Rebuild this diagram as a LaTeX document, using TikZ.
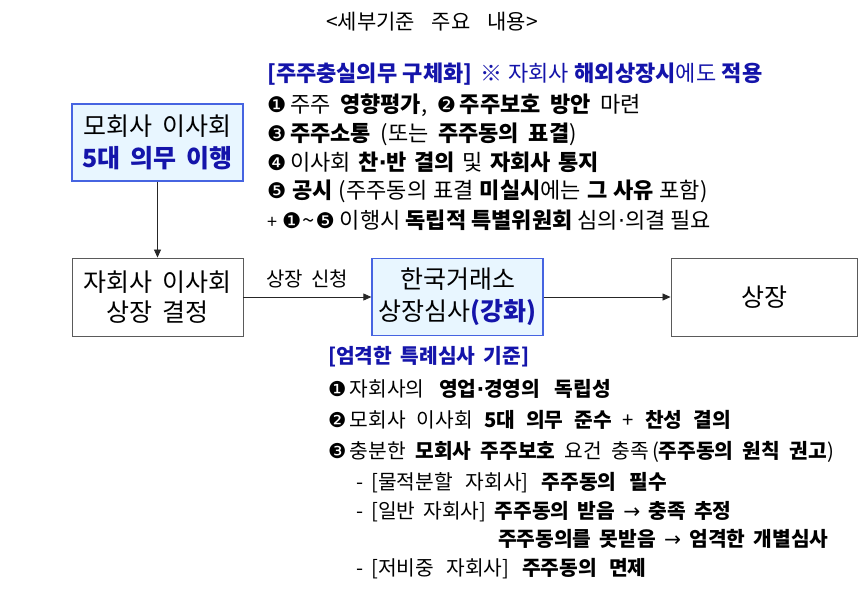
\documentclass[tikz,border=0pt]{standalone}
\usepackage{fontspec}
\setmainfont[WordSpace=1.8]{Noto Sans CJK KR}
\newfontfamily\dv{DejaVu Sans}
\usetikzlibrary{arrows.meta}
\definecolor{tblue}{RGB}{20,20,170}
\definecolor{bfill}{RGB}{232,246,255}
\definecolor{bline}{RGB}{70,100,225}
\definecolor{gline}{RGB}{90,90,90}
\newcommand{\cn}[1]{{\dv\fontsize{21.5}{22}\selectfont\char"#1}}
\newcommand{\cm}[1]{{\dv\fontsize{20.5}{21}\selectfont\char"#1}}
\newcommand{\md}{{\dv\char"B7}}
\newcommand{\ar}{{\dv\char"2192}}
\newcommand{\kb}[1]{{\bfseries #1}}
\tikzset{
  bluebox/.style={draw=bline, fill=bfill, line width=1.3pt, minimum width=171pt, minimum height=77pt, align=center, font=\fontsize{25}{32}\selectfont, inner sep=0pt},
  greybox/.style={draw=gline, fill=white, line width=0.9pt, minimum width=171pt, minimum height=78pt, align=center, font=\fontsize{25}{30}\selectfont, inner sep=0pt},
  topline/.style={anchor=west, inner sep=0pt, font=\fontsize{22}{24}\selectfont},
  botline/.style={anchor=west, inner sep=0pt, font=\fontsize{20.3}{22}\selectfont},
  ws/.style={execute at begin node={\spaceskip=#1\relax}},
  conn/.style={draw=black!85, line width=0.8pt, -{Triangle[length=8pt,width=7pt]}}
}
\begin{document}
\begin{tikzpicture}[x=1pt,y=-1pt]
\useasboundingbox[fill=white] (0,0) rectangle (860,595);
\node[inner sep=0pt, font=\fontsize{21}{24}\selectfont] (title) at (432,22) {<세부기준\ \ 주요\ \ 내용>};

\node[bluebox] (b1) at (157.5,142.5) {모회사 이사회\\{\bfseries\color{tblue}5대 의무 이행}};
\node[greybox] (b2) at (157.5,297) {자회사 이사회\\상장 결정};
\node[bluebox] (b3) at (457.5,297) {한국거래소\\상장심사{\bfseries\color{tblue}(강화)}};
\node[greybox, minimum width=186pt] (b4) at (764,297) {상장};

\draw[conn] (b1) -- (b2);
\draw[conn] (b2) -- node[above=9pt, font=\fontsize{20}{22}\selectfont, inner sep=0pt] (lbl) {상장 신청} (b3);
\draw[conn] (b3) -- (b4);

\node[topline, ws=5.5pt, text=tblue] (t1) at (267,74) {\kb{[주주충실의무 구체화]}\hspace{3pt} ※ 자회사 \kb{해외상장시}에도 \kb{적용}};
\node[topline, ws=9.6pt] (t2) at (267,105) {\cn{2776}\,주주 \kb{영향평가}, \cn{2777}\,\kb{주주보호 방안} 마련};
\node[topline, ws=9.6pt] (t3) at (267,134) {\cn{2778}\,\kb{주주소통} (또는 \kb{주주동의 표결})};
\node[topline, ws=7.5pt] (t4) at (267,162) {\cn{2779}\,이사회 \kb{찬\md 반 결의} 및 \kb{자회사 통지}};
\node[topline, ws=6pt] (t5) at (267,191) {\cn{277A} \kb{공시} (주주동의 표결 \kb{미실시}에는 \kb{그 사유} 포함)};
\node[topline, ws=5pt] (t6) at (267,220) {{\fontsize{18}{20}\selectfont +} \cn{2776}\kern1pt\char"7E\kern1pt\cn{277A} 이행시 \kb{독립적 특별위원회} 심의\md 의결 필요};

\node[botline, text=tblue] (u0) at (328,357) {\kb{[엄격한 특례심사 기준]}};
\node[botline, ws=14.5pt] (u1) at (328,389) {\cm{2776}\,자회사의 \kb{영업\md 경영의 독립성}};
\node[botline, ws=11pt] (u2) at (328,420) {\cm{2777}\,모회사 이사회 \kb{5대 의무 준수} + \kb{찬성 결의}};
\node[botline, ws=9.4pt] (u3) at (328,452) {\cm{2778}\,충분한 \kb{모회사 주주보호} 요건 충족\kern3pt(\kb{주주동의 원칙 권고})};
\node[botline, ws=13pt] (u4) at (356,483) {-\hspace{8pt}[물적분할 자회사] \kb{주주동의 필수}};
\node[botline] (u5) at (356,512) {-\hspace{8pt}[일반 자회사] \kb{주주동의 받음} \ar\ \kb{충족 추정}};
\node[botline] (u6) at (498,539) {\kb{주주동의를 못받음} \ar\ \kb{엄격한 개별심사}};
\node[botline, ws=12.5pt] (u7) at (356,569) {-\hspace{8pt}[저비중 자회사] \kb{주주동의 면제}};
\end{tikzpicture}
\end{document}
